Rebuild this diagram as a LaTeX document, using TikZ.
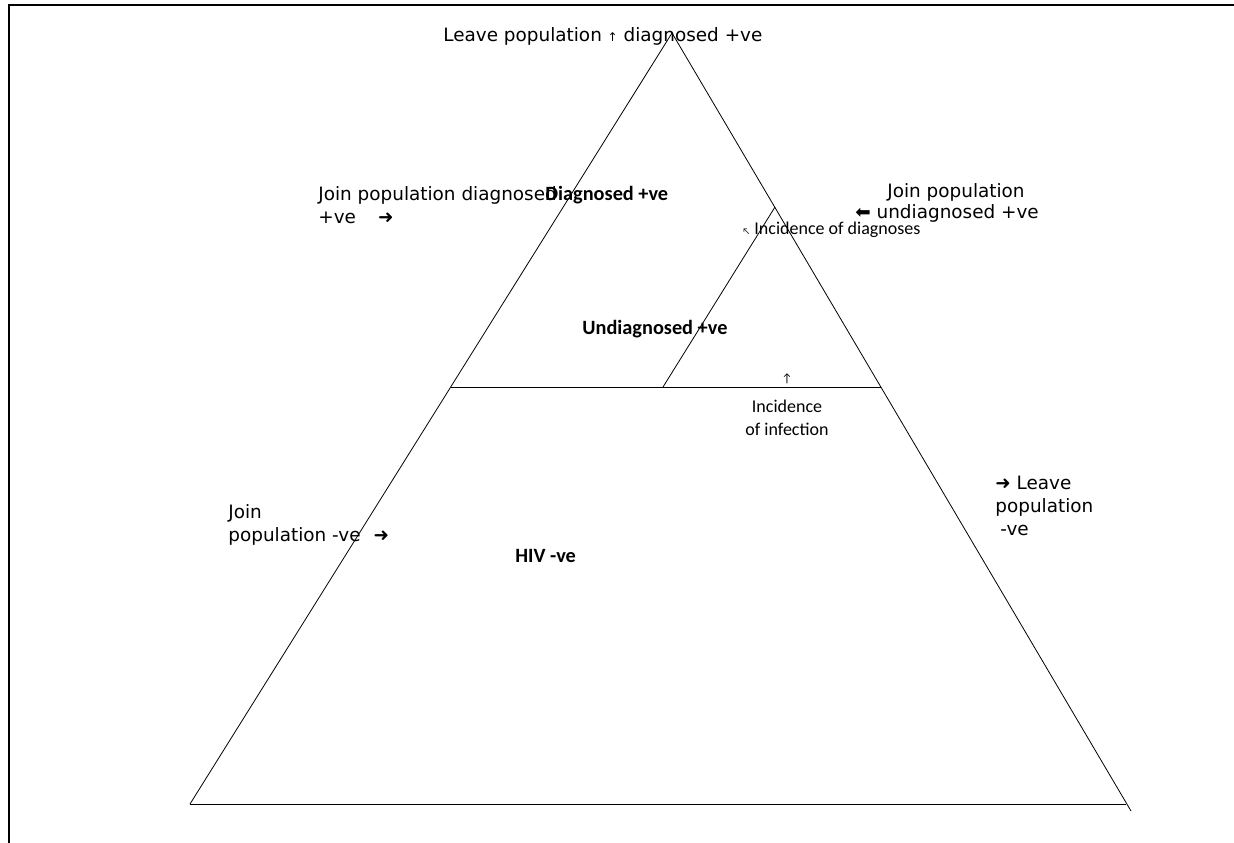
\documentclass[tikz,border=0pt]{standalone}
\usepackage{fontspec}
\setmainfont{DejaVu Sans}
\newfontfamily\gillfont{Carlito}
\newcommand{\thinarrow}[2][12]{{\fontsize{#1}{#1}\selectfont #2}}

\begin{document}
\begin{tikzpicture}[x=1pt,y=-1pt,line width=0.8pt,
    note/.style={font=\fontsize{18.4}{23}\selectfont,inner sep=0pt,anchor=base west,align=left},
    stock/.style={font=\gillfont\bfseries\fontsize{20.3}{24}\selectfont,inner sep=0pt,anchor=base west},
    flow/.style={font=\gillfont\fontsize{18}{23}\selectfont,inner sep=0pt,align=center}]

  \useasboundingbox (0,0) rectangle (1234,843);
  \draw[line width=1.2pt] (8,5) -- (1234,5);
  \draw[line width=1.2pt] (9,5) -- (9,843);

  \coordinate (apex)   at (672,33);
  \coordinate (bl)     at (190,804);
  \coordinate (br)     at (1126,804);
  \coordinate (brtail) at (1131,811);
  \coordinate (midl)   at (451,387);
  \coordinate (midr)   at (881,387);
  \coordinate (splitb) at (663,387);
  \coordinate (splitt) at (775,207);

  \draw (bl) -- (apex) -- (brtail);
  \draw (bl) -- (br);
  \draw (midl) -- (midr);
  \draw (splitb) -- (splitt);

  % multi-line notes sit on the baseline of their last line
  \node[note]  (leavediag)  at (443,42)  {Leave population \thinarrow{↑} diagnosed +ve};
  \node[note]  (joindiag)   at (318,223) {Join population diagnosed\\+ve\hspace{22pt}➜};
  \node[stock] (diag)       at (545,200) {Diagnosed +ve};
  \node[note]  (joinundiag) at (855,218) {\hspace*{32pt}Join population\\[-2pt]⬅ undiagnosed +ve};
  \node[flow,anchor=base west] (incdiag) at (742,234) {\thinarrow[9]{↖} Incidence of diagnoses};
  \node[stock] (undiag)     at (582,334) {Undiagnosed +ve};
  \node[flow,anchor=north]  (incinf) at (787,373) {\thinarrow{↑}\\[7pt]Incidence\\of infection};
  \node[note]  (joinneg)    at (228,541) {Join\\population -ve\hspace{13pt}➜};
  \node[stock] (hivneg)     at (515,562) {HIV -ve};
  \node[note]  (leaveneg)   at (995,535) {➜ Leave\\population\\\hspace*{5pt}-ve};
\end{tikzpicture}
\end{document}
